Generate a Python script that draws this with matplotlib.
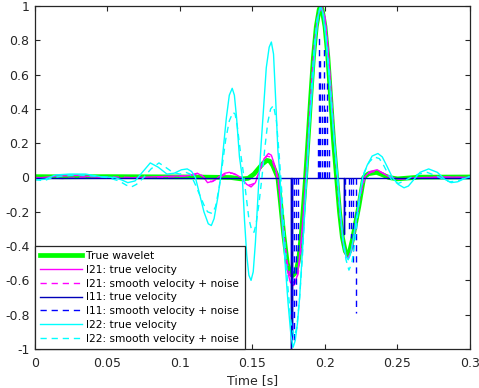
import matplotlib
matplotlib.use('Agg')
import matplotlib.pyplot as plt
from matplotlib.ticker import FormatStrFormatter

# true wavelet
wavelet_t = [0.000, 0.020, 0.050, 0.080, 0.110, 0.135, 0.142, 0.147, 0.151, 0.154, 0.157, 0.160, 0.162,
             0.164, 0.166, 0.1675, 0.169, 0.1715, 0.174, 0.176, 0.178, 0.180, 0.182, 0.184, 0.1866, 0.188,
             0.190, 0.192, 0.194, 0.196, 0.197, 0.198, 0.200, 0.202, 0.204, 0.206, 0.208, 0.210, 0.212,
             0.214, 0.2155, 0.217, 0.219, 0.221, 0.2233, 0.2267, 0.230, 0.2355, 0.240, 0.244, 0.250,
             0.256, 0.265, 0.300]
wavelet_v = [0.005, 0.004, 0.005, 0.004, 0.003, 0.0, -0.008, -0.005, 0.02, 0.05, 0.08, 0.10, 0.095,
             0.07, 0.03, 0.0, -0.12, -0.33, -0.50, -0.56, -0.57, -0.55, -0.47, -0.30, 0.0, 0.18,
             0.45, 0.70, 0.88, 0.98, 1.00, 0.98, 0.88, 0.70, 0.45, 0.20, 0.0, -0.20, -0.35,
             -0.43, -0.45, -0.43, -0.36, -0.27, -0.17, 0.0, 0.022, 0.03, 0.015, 0.0, -0.008,
             -0.004, 0.002, 0.003]

# l21
l21_true_t = [0.000, 0.015, 0.030, 0.045, 0.060, 0.080, 0.095, 0.105, 0.112, 0.116, 0.119, 0.123, 0.127,
              0.131, 0.134, 0.138, 0.142, 0.146, 0.149, 0.152, 0.155, 0.158, 0.161, 0.163, 0.165, 0.1675,
              0.169, 0.171, 0.1735, 0.176, 0.1785, 0.181, 0.183, 0.185, 0.187, 0.189, 0.191, 0.193, 0.195,
              0.1975, 0.200, 0.202, 0.204, 0.206, 0.2085, 0.2105, 0.2125, 0.2145, 0.216, 0.218, 0.220,
              0.222, 0.224, 0.227, 0.231, 0.236, 0.241, 0.245, 0.251, 0.260, 0.280, 0.300]
l21_true_v = [-0.005, 0.008, 0.012, 0.0, -0.004, 0.003, 0.008, 0.01, 0.025, 0.005, -0.03, -0.02, 0.005,
              0.025, 0.03, 0.02, 0.0, -0.04, -0.055, -0.03, 0.04, 0.11, 0.14, 0.13, 0.08, 0.0,
              -0.12, -0.32, -0.52, -0.61, -0.63, -0.57, -0.42, -0.22, 0.02, 0.30, 0.58, 0.80, 0.94,
              1.00, 0.93, 0.76, 0.52, 0.26, 0.0, -0.22, -0.38, -0.46, -0.47, -0.43, -0.34,
              -0.22, -0.11, 0.0, 0.035, 0.045, 0.02, 0.0, -0.01, -0.004, 0.003, 0.0]

l21_noisy_t = [0.000, 0.020, 0.040, 0.060, 0.080, 0.100, 0.110, 0.114, 0.118, 0.122, 0.127, 0.132, 0.136,
               0.140, 0.144, 0.148, 0.151, 0.154, 0.157, 0.160, 0.162, 0.164, 0.166, 0.168, 0.170, 0.172,
               0.174, 0.1765, 0.179, 0.1815, 0.1835, 0.1855, 0.1875, 0.1895, 0.1915, 0.1935, 0.1955,
               0.1978, 0.200, 0.202, 0.204, 0.206, 0.2085, 0.2105, 0.2125, 0.2145, 0.2162, 0.218, 0.220,
               0.222, 0.2245, 0.2275, 0.2315, 0.2365, 0.2415, 0.246, 0.252, 0.262, 0.280, 0.300]
l21_noisy_v = [0.0, -0.006, 0.006, 0.002, -0.003, 0.006, 0.015, 0.02, -0.01, -0.025, 0.0, 0.02, 0.025,
               0.01, -0.02, -0.045, -0.035, 0.02, 0.09, 0.125, 0.12, 0.09, 0.04, -0.04, -0.18, -0.36,
               -0.50, -0.59, -0.62, -0.56, -0.42, -0.20, 0.06, 0.33, 0.60, 0.81, 0.95,
               0.99, 0.93, 0.76, 0.52, 0.27, 0.0, -0.21, -0.37, -0.45, -0.47, -0.43, -0.35,
               -0.23, -0.10, 0.0, 0.03, 0.04, 0.018, 0.0, -0.008, -0.002, 0.002, 0.0]

# l11 (spiky)
l11_true_t = [0.000, 0.1763, 0.1763, 0.1763, 0.1772, 0.1772, 0.1772, 0.2129, 0.2129, 0.2129, 0.300]
l11_true_v = [0.0, 0.0, -1.0, 0.0, 0.0, -0.92, 0.0, 0.0, -0.33, 0.0, 0.0]

l11_noisy_spike_t = [0.1770, 0.1786, 0.1800, 0.1812, 0.1950, 0.1960, 0.1968, 0.1978, 0.1990, 0.2002,
                     0.2015, 0.2030, 0.2140, 0.2165, 0.2182, 0.2196, 0.2212]
l11_noisy_spike_v = [-0.98, -0.95, -0.75, -0.45, 0.25, 0.82, 0.70, 0.55, 0.75, 0.40,
                     0.55, 0.18, -0.22, -0.30, -0.35, -0.50, -0.79]

# l22
l22_true_t = [0.000, 0.007, 0.014, 0.024, 0.035, 0.045, 0.055, 0.060, 0.064, 0.069, 0.074, 0.0795, 0.085,
              0.091, 0.096, 0.101, 0.105, 0.108, 0.1106, 0.113, 0.1165, 0.1195, 0.1216, 0.1235, 0.126,
              0.128, 0.130, 0.132, 0.134, 0.136, 0.1375, 0.139, 0.141, 0.143, 0.1445, 0.146, 0.1475,
              0.149, 0.1505, 0.152, 0.1535, 0.1545, 0.156, 0.1576, 0.1595, 0.1615, 0.163, 0.1645, 0.166,
              0.1675, 0.169, 0.1705, 0.1725, 0.1745, 0.1765, 0.178, 0.1795, 0.181, 0.1825, 0.1845,
              0.1873, 0.189, 0.1915, 0.1935, 0.1955, 0.197, 0.1985, 0.2005, 0.2025, 0.2045, 0.2074,
              0.2088, 0.2105, 0.2125, 0.2145, 0.216, 0.2175, 0.2195, 0.222, 0.224, 0.226, 0.229,
              0.2325, 0.2365, 0.2395, 0.2425, 0.2465, 0.2505, 0.2545, 0.2575, 0.2615, 0.2655, 0.2715,
              0.2775, 0.2825, 0.287, 0.2915, 0.2965, 0.300]
l22_true_v = [-0.015, -0.01, 0.015, 0.02, 0.02, 0.005, 0.0, -0.015, -0.03, -0.02, 0.03, 0.085, 0.06,
              0.02, 0.025, 0.045, 0.05, 0.035, 0.0, -0.08, -0.20, -0.27, -0.28, -0.24, -0.12,
              0.0, 0.18, 0.35, 0.48, 0.52, 0.48, 0.35, 0.12, 0.0, -0.25, -0.45, -0.57,
              -0.60, -0.55, -0.38, -0.15, 0.0, 0.20, 0.40, 0.64, 0.76, 0.79, 0.72, 0.45,
              0.16, 0.0, -0.25, -0.50, -0.73, -0.92, -0.99, -0.95, -0.85, -0.70, -0.42,
              0.0, 0.25, 0.55, 0.80, 0.95, 1.0, 0.96, 0.82, 0.62, 0.40, 0.12,
              0.0, -0.20, -0.37, -0.46, -0.48, -0.45, -0.36, -0.22, -0.10, 0.0, 0.07,
              0.125, 0.14, 0.12, 0.07, 0.0, -0.04, -0.06, -0.05, -0.01, 0.03, 0.05,
              0.03, -0.01, -0.03, -0.025, -0.005, 0.005]

l22_noisy_t = [0.000, 0.006, 0.012, 0.020, 0.030, 0.040, 0.050, 0.058, 0.063, 0.0665, 0.070, 0.075, 0.080,
               0.0855, 0.090, 0.095, 0.100, 0.104, 0.107, 0.110, 0.113, 0.1165, 0.119, 0.1222, 0.1245,
               0.127, 0.129, 0.1315, 0.134, 0.1365, 0.138, 0.1395, 0.1415, 0.1435, 0.1455, 0.1475,
               0.1495, 0.151, 0.1525, 0.1545, 0.1565, 0.1585, 0.1605, 0.1625, 0.1645, 0.1665, 0.1685,
               0.1705, 0.1725, 0.1745, 0.1765, 0.1785, 0.1805, 0.1825, 0.1845, 0.1865, 0.1885, 0.1905,
               0.1925, 0.1945, 0.1965, 0.1985, 0.2005, 0.2025, 0.2045, 0.2065, 0.2085, 0.2105, 0.2125,
               0.2145, 0.2165, 0.2185, 0.2205, 0.2225, 0.2245, 0.227, 0.2305, 0.234, 0.2375, 0.2405,
               0.2435, 0.2465, 0.2505, 0.2545, 0.259, 0.2645, 0.2705, 0.2765, 0.2815, 0.286, 0.292,
               0.2965, 0.300]
l22_noisy_v = [-0.01, -0.02, 0.0, 0.01, 0.015, 0.008, 0.0, -0.02, -0.045, -0.055, -0.04, 0.0, 0.05,
               0.085, 0.06, 0.03, 0.02, 0.03, 0.02, -0.03, -0.09, -0.16, -0.20, -0.21, -0.17,
               -0.06, 0.06, 0.22, 0.33, 0.38, 0.37, 0.30, 0.16, 0.04, -0.10, -0.24,
               -0.31, -0.32, -0.27, -0.15, 0.0, 0.17, 0.32, 0.40, 0.42, 0.33, 0.12,
               -0.12, -0.40, -0.65, -0.84, -0.93, -0.88, -0.70, -0.45, -0.12, 0.20, 0.50,
               0.76, 0.92, 0.99, 0.97, 0.85, 0.66, 0.44, 0.20, -0.02, -0.22, -0.38,
               -0.48, -0.54, -0.50, -0.38, -0.22, -0.08, 0.03, 0.09, 0.12, 0.11, 0.07,
               0.02, -0.02, -0.035, -0.02, 0.0, 0.02, 0.03, 0.01, -0.01, -0.025, -0.02,
               0.0, 0.005]

plt.rcParams['font.family'] = 'DejaVu Sans'
fig = plt.figure(figsize=(4.79, 3.88), dpi=100)
ax = fig.add_axes([35 / 479, 1 - 349 / 388, 435 / 479, 343 / 388])

dash = (4.5, 3.5)
h1, = ax.plot(wavelet_t, wavelet_v, color=(0, 1, 0), lw=3.4, label='True wavelet')
h2, = ax.plot(l21_true_t, l21_true_v, color=(1, 0, 1), lw=1.0, label='l21: true velocity')
h3, = ax.plot(l21_noisy_t, l21_noisy_v, color=(1, 0, 1), lw=1.0, dashes=dash,
              label='l21: smooth velocity + noise')
h4, = ax.plot(l11_true_t, l11_true_v, color=(0, 0, 0.72), lw=1.0, label='l11: true velocity')
h5 = ax.vlines(l11_noisy_spike_t, 0, l11_noisy_spike_v, color=(0, 0, 1), lw=1.0,
               linestyles=(0, dash), label='l11: smooth velocity + noise')
h6, = ax.plot(l22_true_t, l22_true_v, color=(0, 1, 1), lw=1.0, label='l22: true velocity')
h7, = ax.plot(l22_noisy_t, l22_noisy_v, color=(0, 1, 1), lw=1.0, dashes=dash,
              label='l22: smooth velocity + noise')

ax.set_xlim(0, 0.3)
ax.set_ylim(-1, 1)
ax.set_xticks([0, 0.05, 0.1, 0.15, 0.2, 0.25, 0.3])
ax.set_yticks([-1, -0.8, -0.6, -0.4, -0.2, 0, 0.2, 0.4, 0.6, 0.8, 1])
ax.xaxis.set_major_formatter(FormatStrFormatter('%g'))
ax.yaxis.set_major_formatter(FormatStrFormatter('%g'))
ax.tick_params(direction='in', top=True, right=True, length=3.5, width=0.8,
               labelsize=9, colors='#262626')
ax.tick_params(axis='x', pad=6)
ax.tick_params(axis='y', pad=4)
for s in ax.spines.values():
    s.set_color('#262626')
    s.set_linewidth(0.9)
ax.set_xlabel('Time [s]', fontsize=9, color='#262626', labelpad=3)

leg = ax.legend(handles=[h1, h2, h3, h4, h5, h6, h7], loc='lower left', bbox_to_anchor=(0, 0),
                borderaxespad=0, fontsize=7.7, fancybox=False, framealpha=1, edgecolor='#262626',
                handlelength=3.9, handletextpad=0.4, borderpad=0.5, labelspacing=0.35)
leg.get_frame().set_linewidth(0.9)

fig.savefig('out.png', dpi=100)
